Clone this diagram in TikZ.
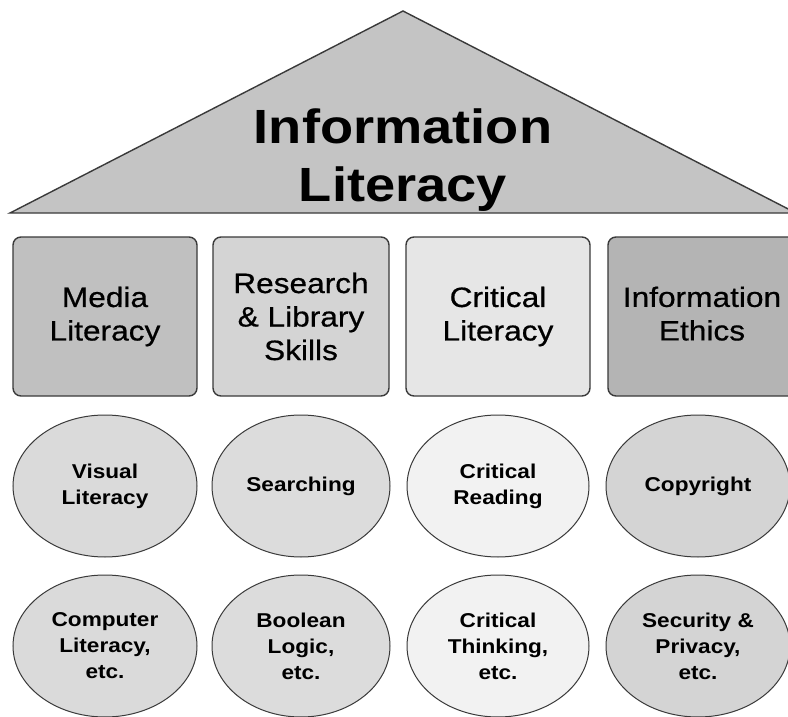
\documentclass[tikz,border=0pt]{standalone}
\usepackage{fontspec}
\setmainfont{Liberation Sans}[FakeStretch=1.13]
\newfontfamily\pillarfont{Liberation Sans}[FakeStretch=1.13,FakeBold=0.6]
\usetikzlibrary{shapes.geometric}
\definecolor{edge}{HTML}{3A3A3A}
\definecolor{roofc}{HTML}{C4C4C4}
\definecolor{boxa}{HTML}{C0C0C0}
\definecolor{boxb}{HTML}{D4D4D4}
\definecolor{boxc}{HTML}{E6E6E6}
\definecolor{boxd}{HTML}{B4B4B4}
\definecolor{ova}{HTML}{DADADA}
\definecolor{ovb}{HTML}{DCDCDC}
\definecolor{ovc}{HTML}{F2F2F2}
\definecolor{ovd}{HTML}{D4D4D4}
\tikzset{
  pillar/.style={draw=edge, line width=1.4pt, rounded corners=8pt, minimum height=159pt, inner sep=0pt, align=center, font=\pillarfont\fontsize{28}{33.5}\selectfont},
  topic/.style={ellipse, draw=edge, line width=1pt, minimum width=184pt, minimum height=142pt, inner sep=0pt, align=center, font=\bfseries\fontsize{20}{26}\selectfont},
  rooftext/.style={inner sep=0pt, align=center, font=\bfseries\fontsize{48}{58}\selectfont}
}
\begin{document}
\begin{tikzpicture}[x=1pt,y=-1pt]
\useasboundingbox (0,0) rectangle (788,717);
\clip (0,0) rectangle (788,717);
\fill[white] (0,0) rectangle (788,717);
% roof
\coordinate (apex) at (403,11);
\coordinate (bl) at (10,213);
\coordinate (br) at (796,213);
\draw[draw=edge, line width=1.4pt, fill=roofc, line join=miter] (bl) -- (apex) -- (br) -- cycle;
\node[rooftext] (title) at (403,160) {Information\\Literacy};
% pillars
\node[pillar, fill=boxa, minimum width=184pt] (p1) at (105,316.5) {Media\\Literacy};
\node[pillar, fill=boxb, minimum width=176pt] (p2) at (301,316.5) {Research\\\& Library\\Skills};
\node[pillar, fill=boxc, minimum width=184pt] (p3) at (498,316.5) {Critical\\Literacy};
\node[pillar, fill=boxd, minimum width=188pt, text depth=6pt] (p4) at (702,316.5) {Information\\Ethics};
% topics
\node[topic, fill=ova] (o1) at (105,486) {Visual\\Literacy};
\node[topic, fill=ovb, minimum width=178pt] (o2) at (301,486) {Searching};
\node[topic, fill=ovc, minimum width=182pt] (o3) at (498,486) {Critical\\Reading};
\node[topic, fill=ovd] (o4) at (698,486) {Copyright};
\node[topic, fill=ova] (o5) at (105,646) {Computer\\Literacy,\\etc.};
\node[topic, fill=ovb, minimum width=178pt] (o6) at (301,646) {Boolean\\Logic,\\etc.};
\node[topic, fill=ovc, minimum width=182pt] (o7) at (498,646) {Critical\\Thinking,\\etc.};
\node[topic, fill=ovd] (o8) at (698,646) {Security \&\\Privacy,\\etc.};
\end{tikzpicture}
\end{document}
